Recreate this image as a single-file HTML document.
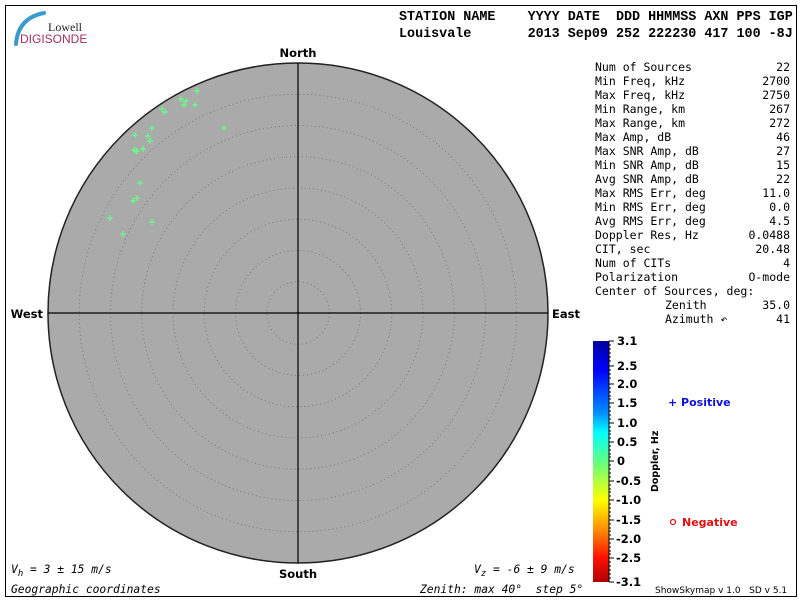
<!DOCTYPE html>
<html><head><meta charset="utf-8"><style>
body{margin:0;background:#fff}
svg{display:block}
.m{font-family:"DejaVu Sans Mono","Liberation Mono",monospace;font-size:11.5px;fill:#000}
.h{font-family:"Liberation Mono",monospace;font-size:13.4px;font-weight:bold;fill:#000}
.b{font-family:"DejaVu Sans",sans-serif;font-size:11.5px;font-weight:bold;fill:#000}
.cb{font-family:"DejaVu Sans",sans-serif;font-size:11.5px;font-weight:bold;fill:#000}
.i{font-family:"DejaVu Sans Mono",monospace;font-size:11.3px;font-style:italic;fill:#000}
</style></head><body>
<svg width="800" height="600" xmlns="http://www.w3.org/2000/svg">
<defs>
<linearGradient id="jet" x1="0" y1="0" x2="0" y2="1">
<stop offset="0" stop-color="#0000a0"/>
<stop offset="0.12" stop-color="#0000ff"/>
<stop offset="0.3" stop-color="#0090ff"/>
<stop offset="0.38" stop-color="#00ffff"/>
<stop offset="0.5" stop-color="#60ff80"/>
<stop offset="0.66" stop-color="#ffff00"/>
<stop offset="0.78" stop-color="#ff9000"/>
<stop offset="0.9" stop-color="#ff1000"/>
<stop offset="1" stop-color="#b00000"/>
</linearGradient>
</defs>
<rect x="5.5" y="5.5" width="791" height="591" fill="none" stroke="#000"/>
<path d="M16 44 Q18 18 44 13" stroke="#3a9ad0" stroke-width="4" fill="none" stroke-linecap="round"/>
<text x="48" y="31" font-family="Liberation Serif,serif" font-size="12" fill="#222">Lowell</text>
<text x="20" y="43" font-family="Liberation Sans,sans-serif" font-size="12" fill="#a03060">DIGISONDE</text>
<text x="399" y="20" class="h" xml:space="preserve">STATION NAME    YYYY DATE  DDD HHMMSS AXN PPS IGP</text>
<text x="399" y="37" class="h" xml:space="preserve">Louisvale       2013 Sep09 252 222230 417 100 -8J</text>
<circle cx="298" cy="313" r="250" fill="#aaaaaa" stroke="#222" stroke-width="1.5"/>
<g fill="none" stroke="#777" stroke-width="1" stroke-dasharray="1 3">
<circle cx="298" cy="313" r="31.25"/><circle cx="298" cy="313" r="62.5"/><circle cx="298" cy="313" r="93.75"/><circle cx="298" cy="313" r="125"/><circle cx="298" cy="313" r="156.25"/><circle cx="298" cy="313" r="187.5"/><circle cx="298" cy="313" r="218.75"/>
</g>
<line x1="298" y1="63" x2="298" y2="563" stroke="#000" stroke-width="1.2"/>
<line x1="48" y1="313" x2="548" y2="313" stroke="#000" stroke-width="1.2"/>
<text x="298" y="57" class="b" text-anchor="middle">North</text>
<text x="298" y="578" class="b" text-anchor="middle">South</text>
<text x="43" y="318" class="b" text-anchor="end">West</text>
<text x="552" y="318" class="b">East</text>
<g stroke="#66ff88" stroke-width="1.2">
<path d="M194 91h6M197 88v6 M178 99h6M181 96v6 M183 101h6M186 98v6 M181 105h6M184 102v6 M192 105h6M195 102v6 M159 109h6M162 106v6 M162 112h6M165 109v6 M221 128h6M224 125v6 M149 128h6M152 125v6 M132 135h6M135 132v6 M145 136h6M148 133v6 M147 141h6M150 138v6 M131 150h6M134 147v6 M134 151h6M137 148v6 M140 149h6M143 146v6 M133 151h6M136 148v6 M137 183h6M140 180v6 M134 198h6M137 195v6 M130 201h6M133 198v6 M107 218h6M110 215v6 M149 222h6M152 219v6 M120 234h6M123 231v6"/>
</g>
<g class="m" xml:space="preserve">
<text x="595" y="71">Num of Sources</text><text x="790" y="71" text-anchor="end">22</text>
<text x="595" y="85">Min Freq, kHz</text><text x="790" y="85" text-anchor="end">2700</text>
<text x="595" y="99">Max Freq, kHz</text><text x="790" y="99" text-anchor="end">2750</text>
<text x="595" y="113">Min Range, km</text><text x="790" y="113" text-anchor="end">267</text>
<text x="595" y="127">Max Range, km</text><text x="790" y="127" text-anchor="end">272</text>
<text x="595" y="141">Max Amp, dB</text><text x="790" y="141" text-anchor="end">46</text>
<text x="595" y="155">Max SNR Amp, dB</text><text x="790" y="155" text-anchor="end">27</text>
<text x="595" y="169">Min SNR Amp, dB</text><text x="790" y="169" text-anchor="end">15</text>
<text x="595" y="183">Avg SNR Amp, dB</text><text x="790" y="183" text-anchor="end">22</text>
<text x="595" y="197">Max RMS Err, deg</text><text x="790" y="197" text-anchor="end">11.0</text>
<text x="595" y="211">Min RMS Err, deg</text><text x="790" y="211" text-anchor="end">0.0</text>
<text x="595" y="225">Avg RMS Err, deg</text><text x="790" y="225" text-anchor="end">4.5</text>
<text x="595" y="239">Doppler Res, Hz</text><text x="790" y="239" text-anchor="end">0.0488</text>
<text x="595" y="253">CIT, sec</text><text x="790" y="253" text-anchor="end">20.48</text>
<text x="595" y="267">Num of CITs</text><text x="790" y="267" text-anchor="end">4</text>
<text x="595" y="281">Polarization</text><text x="790" y="281" text-anchor="end">O-mode</text>
<text x="595" y="295">Center of Sources, deg:</text>
<text x="665" y="309">Zenith</text><text x="790" y="309" text-anchor="end">35.0</text>
<text x="665" y="323">Azimuth ↶</text><text x="790" y="323" text-anchor="end">41</text>
</g>
<rect x="593" y="341" width="16" height="241" fill="url(#jet)"/>
<line x1="609" y1="341" x2="609" y2="582" stroke="#000"/>
<g class="cb">
<text x="617" y="345">3.1</text><text x="617" y="370">2.5</text><text x="617" y="388">2.0</text><text x="617" y="407">1.5</text><text x="617" y="427">1.0</text><text x="617" y="446">0.5</text><text x="617" y="465">0</text><text x="616" y="485">-0.5</text><text x="616" y="504">-1.0</text><text x="616" y="524">-1.5</text><text x="616" y="543">-2.0</text><text x="616" y="562">-2.5</text><text x="616" y="586">-3.1</text>
</g>
<g stroke="#000">
<path d="M609 341h5M609 366h5M609 384h5M609 403h5M609 423h5M609 442h5M609 461h5M609 481h5M609 500h5M609 520h5M609 539h5M609 558h5M609 582h5"/>
<path d="M609 345h2M609 349h2M609 353h2M609 357h2M609 361h2M609 370h2M609 374h2M609 378h2M609 388h2M609 392h2M609 396h2M609 399h2M609 407h2M609 411h2M609 415h2M609 419h2M609 427h2M609 431h2M609 434h2M609 438h2M609 446h2M609 450h2M609 454h2M609 457h2M609 465h2M609 469h2M609 473h2M609 477h2M609 485h2M609 489h2M609 492h2M609 496h2M609 504h2M609 508h2M609 512h2M609 516h2M609 524h2M609 528h2M609 531h2M609 535h2M609 543h2M609 547h2M609 551h2M609 554h2M609 562h2M609 566h2M609 570h2M609 574h2M609 578h2"/>
</g>
<text transform="translate(658,492) rotate(-90)" font-family="DejaVu Sans,sans-serif" font-size="9.5" font-weight="bold">Doppler, Hz</text>
<text x="668" y="406" font-family="DejaVu Sans,sans-serif" font-size="11" font-weight="bold" fill="#1010e0">+ Positive</text>
<circle cx="673" cy="522" r="2.5" fill="none" stroke="#e01010" stroke-width="1.2"/>
<text x="682" y="526" font-family="DejaVu Sans,sans-serif" font-size="11" font-weight="bold" fill="#e01010">Negative</text>
<text x="655" y="593" font-family="DejaVu Sans,sans-serif" font-size="9" fill="#000" xml:space="preserve">ShowSkymap v 1.0   SD v 5.1</text>
<text x="11" y="573" class="i" xml:space="preserve">V<tspan font-size="9" dy="3">h</tspan><tspan dy="-3"> = 3 ± 15 m/s</tspan></text>
<text x="474" y="573" class="i" xml:space="preserve">V<tspan font-size="9" dy="3">z</tspan><tspan dy="-3"> = -6 ± 9 m/s</tspan></text>
<text x="11" y="593" class="i">Geographic coordinates</text>
<text x="420" y="593" class="i" xml:space="preserve">Zenith: max 40°  step 5°</text>
</svg>
</body></html>
